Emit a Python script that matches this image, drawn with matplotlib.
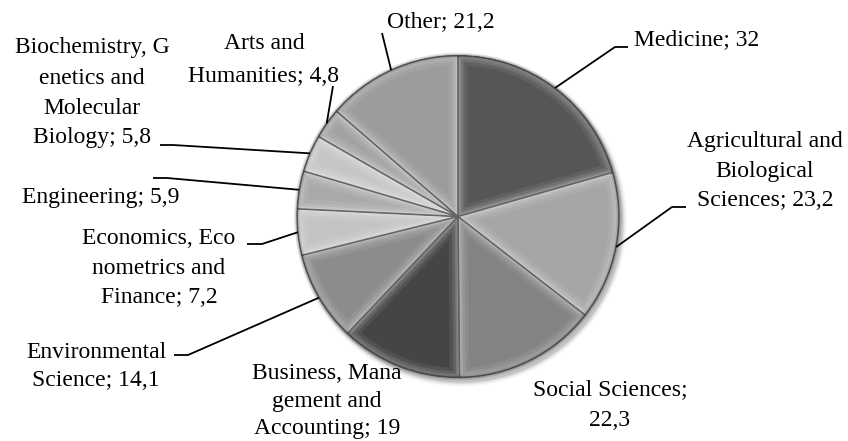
import numpy as np
import matplotlib
matplotlib.use("Agg")
import matplotlib.pyplot as plt
from matplotlib.patches import Wedge, Circle

# ---- data ----
names = ["Medicine", "Agricultural and\nBiological\nSciences", "Social Sciences;\n",
         "Business, Mana\ngement and\nAccounting", "Environmental\nScience",
         "Economics, Eco\nnometrics and\nFinance", "Engineering",
         "Biochemistry, G\nenetics and\nMolecular\nBiology", "Arts and\nHumanities", "Other"]
values = [32, 23.2, 22.3, 19, 14.1, 7.2, 5.9, 5.8, 4.8, 21.2]
colors = ["#565656", "#a6a6a6", "#838383", "#454545", "#8c8c8c",
          "#c4c4c4", "#a9a9a9", "#c6c6c6", "#a2a2a2", "#9c9c9c"]

def fmt(v):
    return ("%g" % v).replace(".", ",")

labels = []
for n, v in zip(names, values):
    if n.endswith(";\n"):
        labels.append(n + fmt(v))
    else:
        labels.append(n + "; " + fmt(v))

W, H = 848, 441
def Y(y):
    return H - y

# label layout (pixel coords: center x, center y of block, line step)
label_pos = [(697, 40, 28), (765, 171, 29), (610, 405, 30), (327, 401, 27.5),
             (96, 366, 28), (159, 268, 29.5), (101, 197, 28), (92, 93, 30),
             (264, 60, 33), (441, 22, 28)]
# leader elbows (pixel coords) ; None = no leader
leaders = [[(615, 47), (628, 47)], [(672, 207), (686, 207)], None, None,
           [(188, 355), (174, 355)], [(262, 244), (247, 244)],
           [(167, 178), (153, 178)], [(173, 145), (160, 145)],
           [(333, 86)], [(382, 33)]]

cx, cy, R = 458, 216.5, 161

fig = plt.figure(figsize=(8.48, 4.41), dpi=100)
ax = fig.add_axes([0, 0, 1, 1])

# drop shadow
for k, a in [(5, 0.03), (3.5, 0.05), (2.2, 0.07), (1.0, 0.10)]:
    ax.add_patch(Circle((cx + 3, Y(cy) - 4), R + k, color="black", alpha=a, lw=0, zorder=0))

wedges, _ = ax.pie(values, colors=colors, startangle=90, counterclock=False,
                   center=(cx, Y(cy)), radius=R,
                   wedgeprops=dict(edgecolor="#4a4a4a", linewidth=0.6, zorder=2))

# bevel effect: inner glow along each wedge boundary
for w in wedges:
    for lw, col, a in [(14, "white", 0.07), (9, "white", 0.10), (5, "white", 0.14), (2.5, "white", 0.16)]:
        p = Wedge(w.center, w.r, w.theta1, w.theta2, fill=False, edgecolor=col,
                  alpha=a, lw=lw, zorder=3)
        ax.add_patch(p)
        p.set_clip_path(w)
    p = Wedge(w.center, w.r, w.theta1, w.theta2, fill=False, edgecolor="#333333",
              alpha=0.55, lw=1.2, zorder=4)
    ax.add_patch(p)
    p.set_clip_path(w)

# darker outer rim
for lw, a in [(4, 0.10), (2, 0.18)]:
    ax.add_patch(Circle((cx, Y(cy)), R, fill=False, edgecolor="black", alpha=a, lw=lw, zorder=4))

ax.set_xlim(0, W)
ax.set_ylim(0, H)
ax.set_aspect("equal")
ax.axis("off")

font = ["Liberation Serif", "DejaVu Serif"]
fs = 17
for w, lab, (tx, ty, step), ld in zip(wedges, labels, label_pos, leaders):
    lines = lab.split("\n")
    n = len(lines)
    for i, line in enumerate(lines):
        yy = ty + (i - (n - 1) / 2) * step
        ax.text(tx, Y(yy), line, ha="center", va="center", fontsize=fs,
                family=font, color="black", zorder=6)
    if ld is not None:
        mid = np.deg2rad((w.theta1 + w.theta2) / 2)
        ax_ = cx + R * np.cos(mid)
        ay_ = Y(cy) + R * np.sin(mid)
        xs = [ax_] + [p[0] for p in ld]
        ys = [ay_] + [Y(p[1]) for p in ld]
        ax.plot(xs, ys, color="black", lw=1.3, zorder=5, solid_capstyle="butt")

fig.savefig("out.png", dpi=100, facecolor="white")
